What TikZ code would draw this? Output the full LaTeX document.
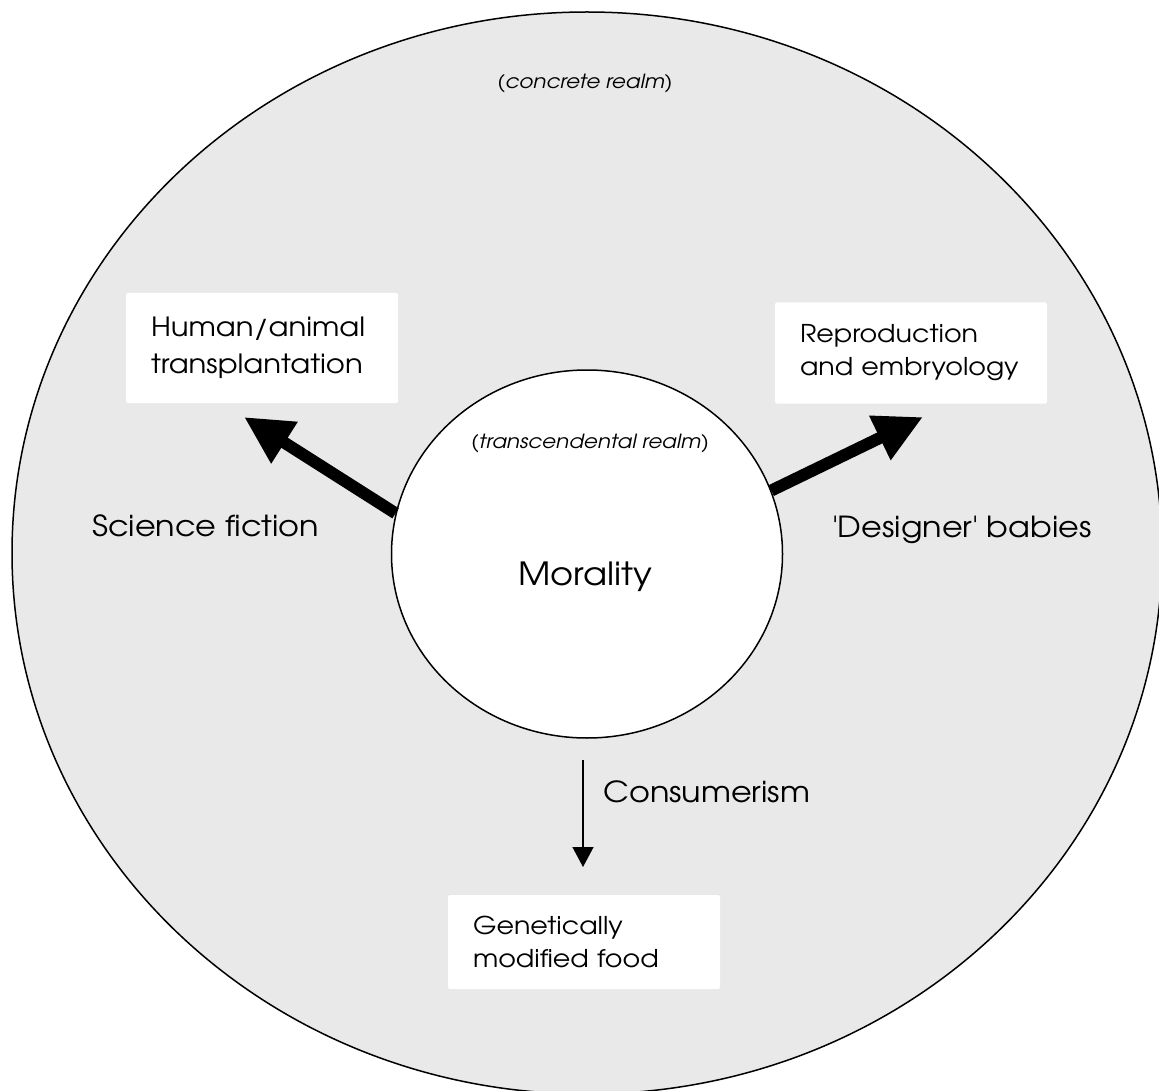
\documentclass[tikz,border=0pt]{standalone}
\usepackage{fontspec}
\setmainfont{TeX Gyre Adventor}[FakeStretch=1.1]
\usetikzlibrary{arrows.meta,shapes.geometric}
\definecolor{realmgray}{HTML}{E9E9E9}
\begin{document}
\begin{tikzpicture}[x=1pt,y=-1pt,
    topic/.style={fill=white,rounded corners=2pt,align=left,text width=222pt,
      inner xsep=25pt,inner ysep=0pt,font=\fontsize{24.5}{33}\selectfont},
    force/.style={anchor=base west,inner sep=0pt,font=\fontsize{29}{37}\selectfont},
    realmnote/.style={inner sep=0pt,font=\itshape\fontsize{19.5}{22}\selectfont},
    thickarrow/.style={line width=12pt,-{Triangle[length=48pt,width=46pt]}},
    thinarrow/.style={line width=1.3pt,-{Triangle[length=20pt,width=21pt]}}]
  \useasboundingbox (0,0) rectangle (1159,1091);
  \clip (0,0) rectangle (1159,1091);
  % concrete realm
  \draw[line width=1.5pt,fill=realmgray] (587,553) ellipse [x radius=575,y radius=541];
  \node[realmnote] (concrete) at (585,84) {(concrete realm)};
  % transcendental realm
  \node[draw,ellipse,fill=white,line width=1.5pt,minimum width=391pt,
    minimum height=368pt,inner sep=0pt] (moral) at (587,554) {};
  \node[realmnote] (transcendental) at (590,443) {(transcendental realm)};
  \node[force,font=\fontsize{32}{37}\selectfont] (morality) at (518,585) {Morality};
  % topics
  \node[topic,minimum height=110pt,font=\fontsize{26.5}{37}\selectfont]
    (transplant) at (262,348) {Human/animal\\transplantation};
  \node[topic,minimum height=101pt] (embryo) at (911,353) {Reproduction\\and embryology};
  \node[topic,minimum height=94pt] (food) at (584,942) {Genetically\\modified food};
  % forces
  \node[force] (scifi) at (92,536) {Science fiction};
  \node[force] (designer) at (832,537) {\textquotesingle Designer\textquotesingle{} babies};
  \node[force] (consumer) at (603,802) {Consumerism};
  \coordinate (tipL) at (244,417);
  \coordinate (tipR) at (923,417);
  \coordinate (consA) at (583,760);
  \coordinate (consB) at (583,867);
  \begin{scope}
    \draw[thickarrow] (moral.168) -- (tipL);
    \draw[thickarrow] (moral.19) -- (tipR);
    \draw[thinarrow] (consA) -- (consB);
  \end{scope}
\end{tikzpicture}
\end{document}
